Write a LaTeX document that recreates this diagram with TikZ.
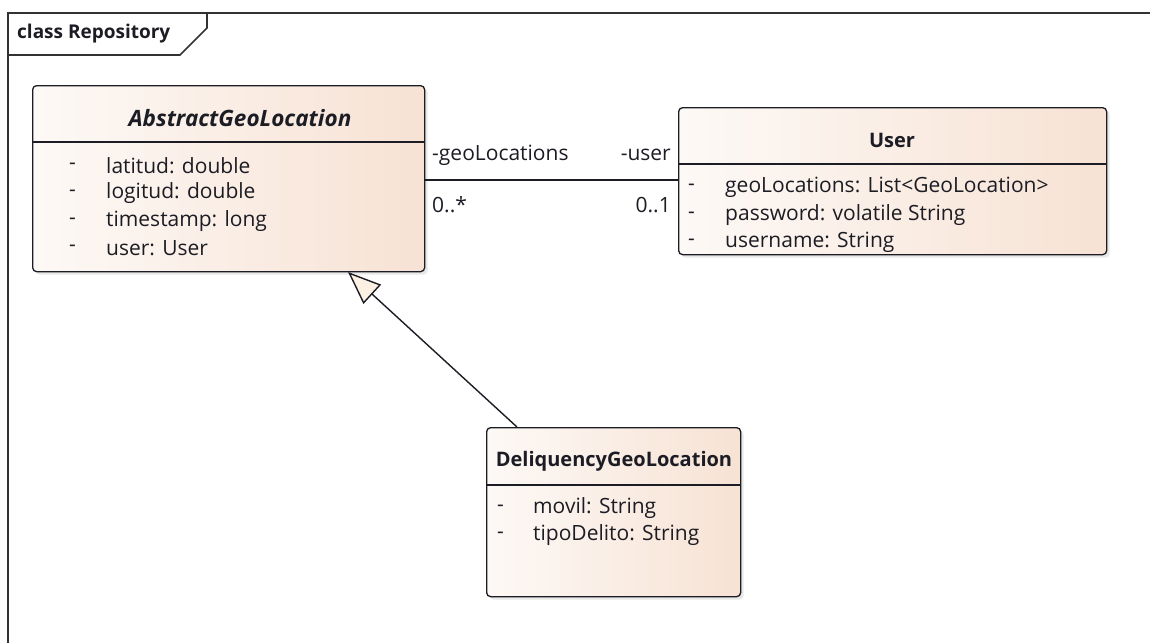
\documentclass[tikz,border=0pt]{standalone}
\usepackage{fontspec}
\setmainfont{Open Sans}
\usetikzlibrary{arrows.meta,shadows}
\definecolor{ink}{RGB}{28,28,36}
\definecolor{frameline}{RGB}{50,50,50}
\definecolor{fillL}{RGB}{253,249,246}
\definecolor{fillR}{RGB}{247,226,212}
\definecolor{tri}{RGB}{251,240,226}
\begin{document}
\begin{tikzpicture}[x=1pt,y=-1pt,
  classbox/.style={draw=ink, line width=1.3pt, rounded corners=4pt,
    left color=fillL, right color=fillR, anchor=north west, inner sep=0pt,
    drop shadow={opacity=0.18, shadow xshift=3pt, shadow yshift=-3pt}},
  divider/.style={draw=ink, line width=1.3pt},
  attr/.style={anchor=west, inner sep=0pt, text=ink, font=\fontsize{21}{25}\selectfont},
  dashmark/.style={attr},
  title/.style={inner sep=0pt, text=ink, font=\fontsize{20}{24}\selectfont\bfseries},
  role/.style={inner sep=0pt, text=ink, font=\fontsize{21}{25}\selectfont},
  conn/.style={draw=ink, line width=1.4pt}]
\useasboundingbox (0,0) rectangle (1150,643);

% diagram frame and its name tab
\draw[frameline, line width=1.7pt] (8,643) -- (8,13) -- (1150,13);
\draw[frameline, line width=1.7pt] (8,55) -- (180,55) -- (207,28) -- (207,13);
\node[anchor=west, inner sep=0pt, text=ink, font=\fontsize{19}{22}\selectfont\bfseries] (frametitle) at (17,34) {class Repository};

% class AbstractGeoLocation
\node[classbox, minimum width=392pt, minimum height=186pt] (abs) at (32,85) {};
\draw[divider] (abs.west |- 0,142) -- (abs.east |- 0,142);
\node[title, font=\fontsize{22.5}{26}\selectfont\bfseries\itshape] (absname) at (240,118) {AbstractGeoLocation};
\node[dashmark] (ad1) at (69,166) {-};
\node[dashmark] (ad2) at (69,193) {-};
\node[dashmark] (ad3) at (69,221) {-};
\node[dashmark] (ad4) at (69,248) {-};
\node[attr] (aa1) at (106,166) {latitud: double};
\node[attr] (aa2) at (106,193) {logitud: double};
\node[attr] (aa3) at (106,221) {timestamp: long};
\node[attr] (aa4) at (106,248) {user: User};

% class User
\node[classbox, minimum width=428pt, minimum height=147pt] (user) at (678,107) {};
\draw[divider] (user.west |- 0,164) -- (user.east |- 0,164);
\node[title] (username) at (892,140) {User};
\node[dashmark] (ud1) at (688,187) {-};
\node[dashmark] (ud2) at (688,215) {-};
\node[dashmark] (ud3) at (688,242) {-};
\node[attr] (ua1) at (725,187) {geoLocations: List<GeoLocation>};
\node[attr] (ua2) at (725,215) {password: volatile String};
\node[attr] (ua3) at (725,242) {username: String};

% class DeliquencyGeoLocation
\node[classbox, minimum width=254pt, minimum height=169pt] (deli) at (486,427) {};
\draw[divider] (deli.west |- 0,485) -- (deli.east |- 0,485);
\node[title] (deliname) at (614,461) {DeliquencyGeoLocation};
\node[dashmark] (dd1) at (497,508) {-};
\node[dashmark] (dd2) at (497,535) {-};
\node[attr] (da1) at (533,508) {movil: String};
\node[attr] (da2) at (533,535) {tipoDelito: String};

% association between AbstractGeoLocation and User
\coordinate (assocy) at (0,180);
\draw[conn] (abs.east |- assocy) -- (user.west |- assocy);
\node[role, anchor=west] (r1) at (432,155) {-geoLocations};
\node[role, anchor=east] (r2) at (671,155) {-user};
\node[role, anchor=west] (m1) at (432,205) {0..*};
\node[role, anchor=east] (m2) at (671,205) {0..1};

% generalization DeliquencyGeoLocation -> AbstractGeoLocation
\coordinate (genfrom) at (517,427);
\coordinate (gento) at (348,272);
\draw[conn, -{Triangle[fill=tri, length=33pt, width=26pt, line width=1.4pt]}] (genfrom) -- (gento);
\end{tikzpicture}
\end{document}
